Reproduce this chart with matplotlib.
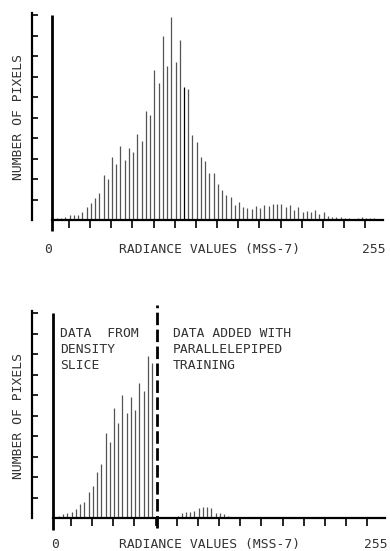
import matplotlib

matplotlib.use("Agg")
import matplotlib.pyplot as plt
import numpy as np

# bar heights, in units of the y tick marks (10 marks)
top_counts = [
    0.08, 0.1, 0.15, 0.22, 0.23, 0.25, 0.4, 0.65, 0.85, 1.06,
    1.33, 2.2, 2.0, 3.05, 2.75, 3.6, 2.95, 3.5, 3.3, 4.2,
    3.85, 5.3, 5.1, 7.3, 6.7, 9.0, 7.5, 9.9, 7.7, 8.8,
    6.5, 6.4, 4.15, 3.8, 3.05, 2.9, 2.3, 2.3, 1.74, 1.46,
    1.23, 1.1, 0.75, 0.86, 0.65, 0.6, 0.54, 0.68, 0.6, 0.73,
    0.66, 0.76, 0.76, 0.78, 0.65, 0.73, 0.49, 0.62, 0.41, 0.46,
    0.41, 0.47, 0.29, 0.37, 0.21, 0.16, 0.13, 0.13, 0.1, 0.1,
    0.07, 0.11, 0.16, 0.11, 0.1, 0.08, 0.05,
]
# lower panel: density slice bins, then the bins added by parallelepiped training
bottom_counts = [
    0.13, 0.2, 0.24, 0.33, 0.44, 0.68, 0.81, 1.3, 1.58, 2.28,
    2.63, 4.15, 3.7, 5.37, 4.63, 6.0, 5.15, 5.9, 5.28, 6.6,
    6.2, 7.9, 7.6, 0, 0, 0, 0, 0.05, 0.13, 0.26,
    0.29, 0.31, 0.34, 0.49, 0.54, 0.57, 0.49, 0.28, 0.26, 0.21,
    0.13, 0.08, 0.08, 0.05,
]
xtick_values = list(range(16, 241, 16))
ytick_values = list(range(1, 11))
slice_limit = 81
marked_bin = 30

left_notes = ["DATA  FROM", "DENSITY", "SLICE"]
right_notes = ["DATA ADDED WITH", "PARALLELEPIPED", "TRAINING"]

FIRST_BIN = 7.0
BIN_WIDTH = 3.2
X_SCALE = 1.323  # px per radiance unit
Y_SCALE = 20.5  # px per tick unit
W, H = 390, 551

BAR_COLOR = "#555555"
INK = "#333333"
FONT = dict(family="DejaVu Sans Mono", size=9.4, color=INK)


def make_axes(fig, top_px, bottom_px, x0_px, base_px):
    ax = fig.add_axes([0, 1 - bottom_px / H, 1, (bottom_px - top_px) / H])
    ax.set_xlim(-x0_px / X_SCALE, (W - x0_px) / X_SCALE)
    ax.set_ylim((base_px - bottom_px) / Y_SCALE, (base_px - top_px) / Y_SCALE)
    ax.patch.set_alpha(0)
    return ax


def draw_panel(ax, counts, tick_bar_x, axis_x, zero_x, label_x, label_y, marked=None):
    x = FIRST_BIN + BIN_WIDTH * np.arange(len(counts))
    colors = [BAR_COLOR] * len(counts)
    if marked is not None:
        colors[marked] = "black"
    ax.vlines(x, 0, counts, colors=colors, lw=0.9, zorder=2)

    # tick scale standing apart from the plot
    ax.spines["left"].set_position(("data", tick_bar_x))
    ax.spines["left"].set_bounds(0, 10.1)
    ax.spines["left"].set_linewidth(1.6)
    ax.spines["bottom"].set_position(("data", 0))
    ax.spines["bottom"].set_bounds(axis_x, 253.4)
    ax.spines["bottom"].set_linewidth(1.6)
    ax.spines["top"].set_visible(False)
    ax.spines["right"].set_visible(False)
    ax.set_yticks(ytick_values)
    ax.set_xticks(xtick_values)
    ax.tick_params(axis="y", direction="in", length=4, width=1.2, labelleft=False)
    ax.tick_params(axis="x", direction="out", length=6, width=1.2, labelbottom=False)

    ax.plot([axis_x, axis_x], [-0.55, 10.0], color="black", lw=2.0,
            solid_capstyle="butt", zorder=3)

    ax.text(zero_x, label_y, "0", ha="center", va="baseline", **FONT)
    ax.text(246.5, label_y, "255", ha="center", va="baseline", **FONT)
    ax.text(label_x, label_y, "RADIANCE VALUES (MSS-7)", ha="center", va="baseline", **FONT)
    ax.text(tick_bar_x - 10.5, 5.0, "NUMBER OF PIXELS", rotation=90,
            ha="center", va="center", **FONT)


fig = plt.figure(figsize=(W / 100, H / 100), dpi=100)

ax_top = make_axes(fig, 0, 270, 47.7, 220)
draw_panel(ax_top, top_counts, -11.9, 3.25, 0.2, 122.7, -1.6, marked=marked_bin)

ax_bot = make_axes(fig, 270, 551, 49.7, 518.3)
draw_panel(ax_bot, bottom_counts, -13.2, 2.7, 4.0, 120.6, -1.45)
ax_bot.plot([slice_limit, slice_limit], [-0.47, 10.4], color="black", lw=2.0,
            linestyle=(0, (4.5, 1.6)), zorder=3)
for k, line in enumerate(left_notes):
    ax_bot.text(7.8, 9.0 - 0.77 * k, line, ha="left", va="center", **FONT)
for k, line in enumerate(right_notes):
    ax_bot.text(93, 9.0 - 0.77 * k, line, ha="left", va="center", **FONT)

fig.savefig("out.png", dpi=100, facecolor="white")
